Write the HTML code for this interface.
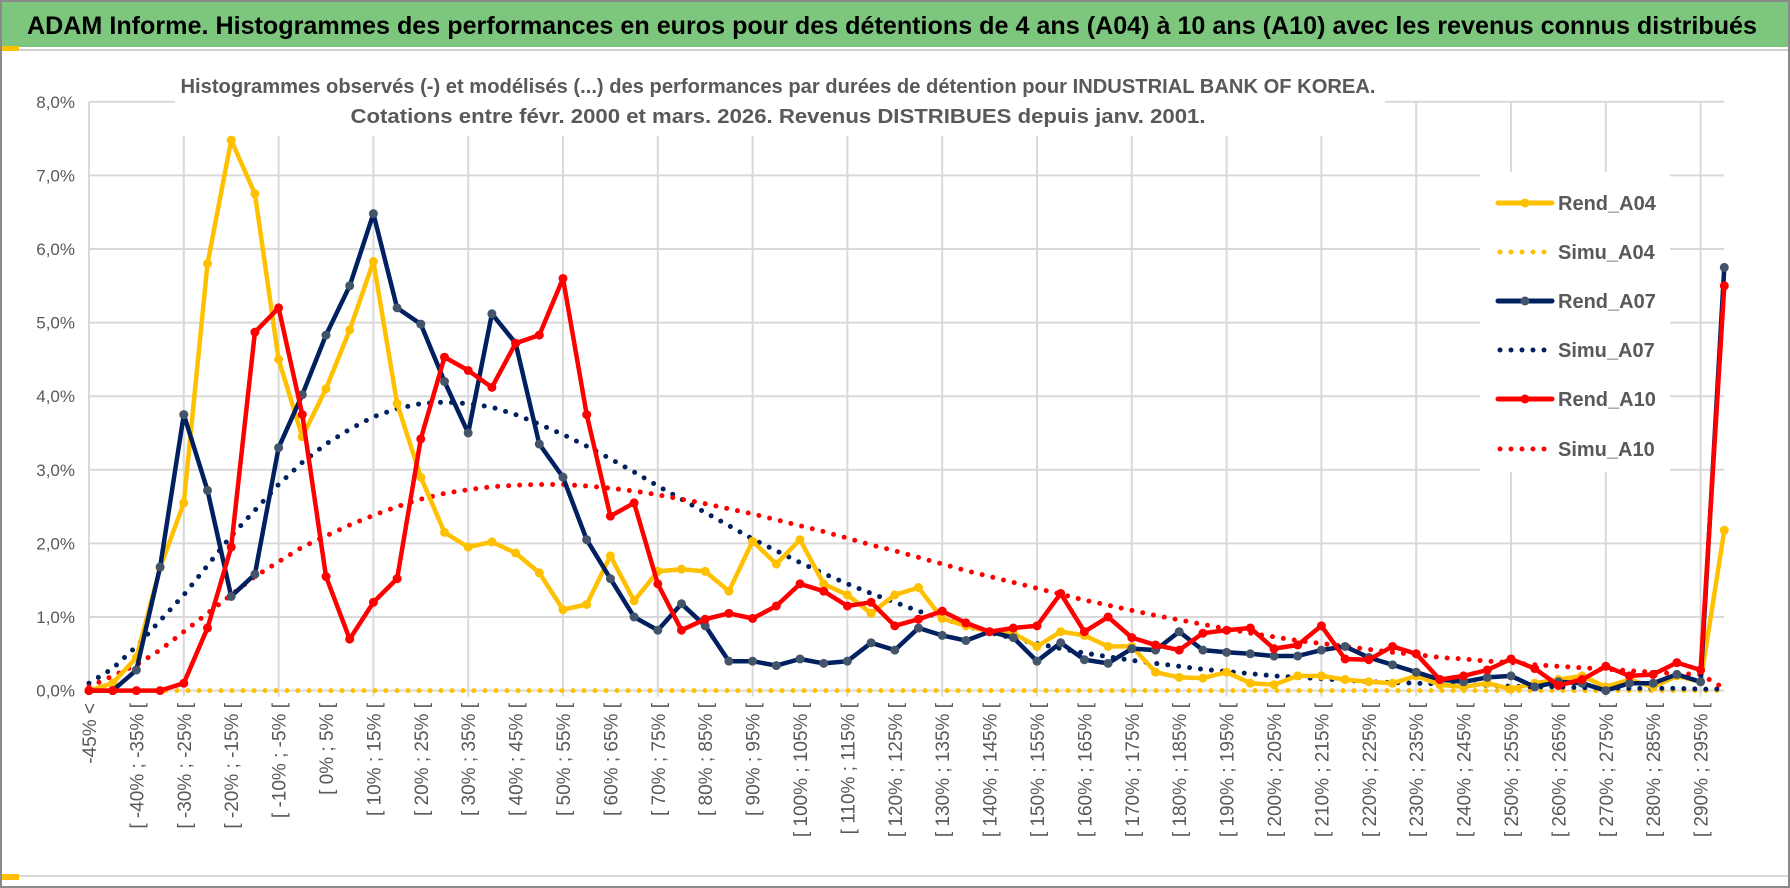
<!DOCTYPE html>
<html><head><meta charset="utf-8">
<style>
html,body{margin:0;padding:0;background:#fff;}
svg{display:block;font-family:"Liberation Sans",sans-serif;}
</style></head>
<body>
<svg id="chart" width="1790" height="888" viewBox="0 0 1790 888" xmlns="http://www.w3.org/2000/svg">
  <rect x="1" y="1" width="1788" height="886" fill="#fff" stroke="#8a8a8a" stroke-width="2"/>
  <rect x="2" y="2" width="1786" height="45" fill="#7dc67e"/>
  <line x1="2" y1="50" x2="1788" y2="50" stroke="#d0d0d0" stroke-width="2"/>
  <rect x="2" y="46" width="17" height="5" fill="#ffc000"/>
  <rect x="2" y="874" width="17" height="6" fill="#ffc000"/>
  <line x1="19" y1="876" x2="1788" y2="876" stroke="#d8d8d8" stroke-width="2"/>
  <text x="27" y="34" font-size="25" font-weight="bold" fill="#000" textLength="1730" lengthAdjust="spacingAndGlyphs">ADAM Informe. Histogrammes des performances en euros pour des détentions de 4 ans (A04) à 10 ans (A10) avec les revenus connus distribués</text>
  <g id="grid"></g>
  <g id="ylabels"></g>
  <g id="xlabels"></g>
  <rect x="175" y="68" width="1210" height="68" fill="#fff"/>
  <text x="778" y="93" font-size="20" font-weight="bold" fill="#595959" text-anchor="middle" textLength="1195" lengthAdjust="spacingAndGlyphs">Histogrammes observés (-) et modélisés (...) des performances par durées de détention pour INDUSTRIAL BANK OF KOREA.</text>
  <text x="778" y="123" font-size="20" font-weight="bold" fill="#595959" text-anchor="middle" textLength="855" lengthAdjust="spacingAndGlyphs">Cotations entre févr. 2000 et mars. 2026. Revenus DISTRIBUES depuis janv. 2001.</text>
  <g id="series"></g>
  <rect x="1480" y="172" width="190" height="300" fill="#fff"/>
  <g id="legend"></g>
</svg>
<script>
const categories = ["-45% <"];
for (let k = 1; k < 70; k++) { const lo = -50 + 5 * k; categories.push("[ " + lo + "% ; " + (lo + 5) + "% ["); }
const yTicks = [0,1,2,3,4,5,6,7,8];
const yTickLabels = ["0,0%","1,0%","2,0%","3,0%","4,0%","5,0%","6,0%","7,0%","8,0%"];
const rendA04 = [0,0.1,0.45,1.67,2.55,5.8,7.48,6.75,4.5,3.45,4.1,4.9,5.83,3.9,2.9,2.15,1.95,2.02,1.87,1.6,1.1,1.17,1.83,1.22,1.62,1.65,1.62,1.35,2.03,1.72,2.05,1.45,1.3,1.05,1.3,1.4,0.98,0.88,0.8,0.78,0.6,0.8,0.75,0.6,0.6,0.25,0.18,0.17,0.25,0.1,0.08,0.2,0.2,0.15,0.12,0.1,0.2,0.08,0.05,0.1,0.02,0.1,0.15,0.2,0.05,0.15,0.05,0.2,0.12,2.18];
const simuA04 = new Array(70).fill(0);
const rendA07 = [0,0,0.28,1.68,3.75,2.72,1.28,1.58,3.3,4.02,4.83,5.5,6.48,5.2,4.98,4.2,3.5,5.12,4.72,3.35,2.9,2.05,1.52,1.0,0.82,1.18,0.88,0.4,0.4,0.34,0.43,0.37,0.4,0.65,0.55,0.85,0.75,0.68,0.8,0.72,0.4,0.65,0.42,0.37,0.57,0.55,0.8,0.55,0.52,0.5,0.47,0.47,0.55,0.6,0.45,0.35,0.25,0.15,0.12,0.18,0.2,0.05,0.12,0.1,0.0,0.1,0.1,0.22,0.12,5.75];
const simuA07 = [0.1,0.3,0.6,0.95,1.3,1.7,2.1,2.45,2.8,3.1,3.35,3.55,3.72,3.83,3.9,3.92,3.9,3.85,3.75,3.62,3.48,3.32,3.15,2.97,2.78,2.6,2.42,2.24,2.06,1.9,1.74,1.59,1.45,1.32,1.2,1.08,0.98,0.88,0.79,0.71,0.64,0.57,0.51,0.46,0.41,0.37,0.33,0.29,0.26,0.23,0.2,0.18,0.16,0.14,0.12,0.11,0.1,0.09,0.08,0.07,0.06,0.05,0.05,0.04,0.04,0.03,0.03,0.03,0.02,0.02];
const rendA10 = [0,0,0,0,0.1,0.85,1.95,4.87,5.2,3.75,1.55,0.7,1.2,1.52,3.42,4.53,4.35,4.12,4.72,4.83,5.6,3.75,2.37,2.55,1.45,0.82,0.97,1.05,0.98,1.15,1.45,1.35,1.15,1.2,0.88,0.97,1.08,0.92,0.8,0.85,0.88,1.32,0.8,1.0,0.72,0.62,0.55,0.78,0.82,0.85,0.57,0.62,0.88,0.43,0.42,0.6,0.5,0.15,0.2,0.28,0.43,0.3,0.07,0.15,0.33,0.2,0.22,0.38,0.28,5.5];
const simuA10 = [0.05,0.2,0.35,0.55,0.8,1.05,1.3,1.55,1.75,1.95,2.1,2.25,2.38,2.5,2.6,2.68,2.73,2.77,2.79,2.8,2.8,2.78,2.75,2.71,2.66,2.6,2.54,2.47,2.4,2.32,2.24,2.16,2.07,1.98,1.9,1.81,1.72,1.63,1.55,1.47,1.39,1.31,1.23,1.16,1.09,1.02,0.96,0.9,0.84,0.78,0.73,0.68,0.64,0.6,0.56,0.52,0.49,0.45,0.43,0.4,0.38,0.35,0.33,0.31,0.29,0.27,0.25,0.23,0.22,0.03];

const NS = "http://www.w3.org/2000/svg";
const X0 = 89, DX = 23.7, Y0 = 690.6, DY = 73.6;
function xs(i){ return X0 + i * DX; }
function ys(v){ return Y0 - v * DY; }
function mk(tag, attrs, parent){ const e = document.createElementNS(NS, tag); for (const k in attrs) e.setAttribute(k, attrs[k]); parent.appendChild(e); return e; }

const grid = document.getElementById('grid');
const xEnd = xs(categories.length - 1);
yTicks.forEach(function(t){
  const l = mk('line', {x1: X0, x2: xEnd, y1: ys(t), y2: ys(t), stroke: '#d9d9d9', 'stroke-width': 2}, grid);
  
  
});
for (let i = 4; i < categories.length; i += 4) {
  const l = mk('line', {x1: xs(i), x2: xs(i), y1: ys(8), y2: ys(0) + 6, stroke: '#d9d9d9', 'stroke-width': 2}, grid);
  
  
}
mk('line', {x1: X0, x2: X0, y1: ys(8), y2: ys(0), stroke: '#d9d9d9', 'stroke-width': 2}, grid);

const yl = document.getElementById('ylabels');
yTicks.forEach(function(t, k){
  const tx = mk('text', {x: 75, y: ys(t) + 6, 'font-size': 17, fill: '#595959', 'text-anchor': 'end'}, yl);
  tx.textContent = yTickLabels[k];
  
  
});
const xl = document.getElementById('xlabels');
for (let i = 0; i < categories.length; i += 2) {
  const x = xs(i) + 7, y = 703;
  const tx = mk('text', {x: x, y: y, 'font-size': 19, fill: '#595959', 'text-anchor': 'end', transform: 'rotate(-90 ' + x + ' ' + y + ')'}, xl);
  tx.textContent = categories[i];
  
  
}

const seriesG = document.getElementById('series');
function pts(arr){ return arr.map(function(v, i){ return xs(i).toFixed(1) + ',' + ys(v).toFixed(1); }).join(' '); }
function dotted(arr, color, name){
  const p = mk('polyline', {points: pts(arr), fill: 'none', stroke: color, 'stroke-width': 5, 'stroke-linecap': 'round', 'stroke-dasharray': '0 11'}, seriesG);
  
  
}
function solid(arr, color, mcolor, name){
  const g = mk('g', {}, seriesG);
  
  
  mk('polyline', {points: pts(arr), fill: 'none', stroke: color, 'stroke-width': 4.5, 'stroke-linejoin': 'round'}, g);
  arr.forEach(function(v, i){
    const c = mk('circle', {cx: xs(i), cy: ys(v), r: 4.5, fill: mcolor}, g);
    
    
  });
}
dotted(simuA04, '#ffc000', 'simu-a04-line');
dotted(simuA07, '#002060', 'simu-a07-line');
dotted(simuA10, '#ff0000', 'simu-a10-line');
solid(rendA04, '#ffc000', '#ffc000', 'rend-a04-line');
solid(rendA07, '#002060', '#44546a', 'rend-a07-line');
solid(rendA10, '#ff0000', '#ff0000', 'rend-a10-line');

const leg = document.getElementById('legend');
const entries = [
  ['Rend_A04', '#ffc000', '#ffc000', false, 203],
  ['Simu_A04', '#ffc000', null, true, 252],
  ['Rend_A07', '#002060', '#44546a', false, 301],
  ['Simu_A07', '#002060', null, true, 350],
  ['Rend_A10', '#ff0000', '#ff0000', false, 399],
  ['Simu_A10', '#ff0000', null, true, 449]
];
entries.forEach(function(e){
  const g = mk('g', {}, leg);
  
  
  if (e[3]) {
    mk('line', {x1: 1500, x2: 1548, y1: e[4], y2: e[4], stroke: e[1], 'stroke-width': 5, 'stroke-linecap': 'round', 'stroke-dasharray': '0 11'}, g);
  } else {
    mk('line', {x1: 1498, x2: 1552, y1: e[4], y2: e[4], stroke: e[1], 'stroke-width': 5, 'stroke-linecap': 'round'}, g);
    mk('circle', {cx: 1525, cy: e[4], r: 4.5, fill: e[2]}, g);
  }
  const t = mk('text', {x: 1558, y: e[4] + 7, 'font-size': 20, 'font-weight': 'bold', fill: '#595959'}, g);
  t.textContent = e[0];
});
</script>
</body></html>
